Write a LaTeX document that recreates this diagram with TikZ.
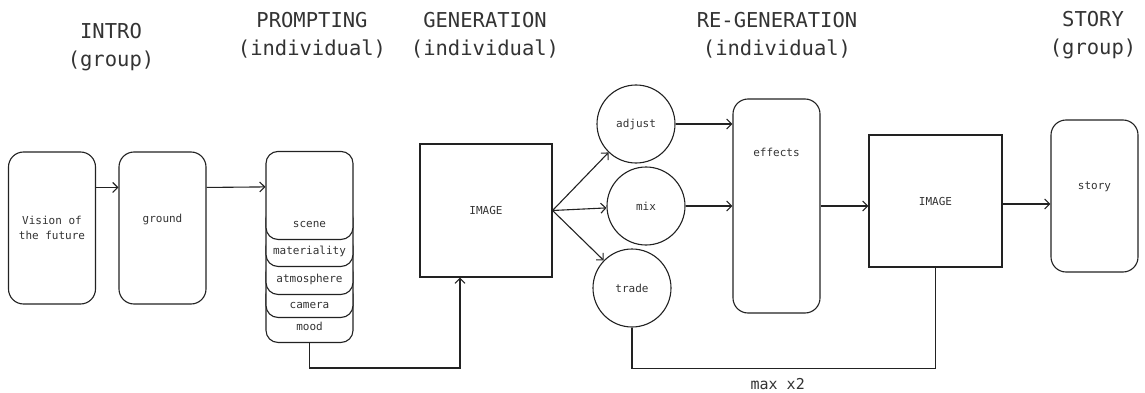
\documentclass[tikz,border=0pt]{standalone}
\usepackage{fontspec}
\setmonofont{DejaVu Sans Mono}
\usetikzlibrary{arrows.meta,positioning,calc}
\definecolor{ink}{HTML}{222222}
\definecolor{txt}{HTML}{333333}
\tikzset{phase/.style={font=\ttfamily\fontsize{20.5}{28}\selectfont,align=center,text=txt},block/.style={draw=ink,line width=1.1pt,fill=white,rounded corners=15pt,minimum width=87pt,inner sep=0pt,align=center,text=txt,font=\ttfamily\fontsize{11}{15}\selectfont},layer/.style={block,rounded corners=12pt,anchor=south,inner ysep=9pt,text depth=3pt,text height=#1},frame/.style={draw=ink,line width=1.1pt,inner sep=0pt,text=txt,font=\ttfamily\fontsize{11}{15}\selectfont},choice/.style={frame,circle,minimum size=78pt},arr/.style={-{Straight Barb[length=5pt,width=10pt]},line width=1.1pt,draw=ink},wire/.style={line width=1.1pt,draw=ink},lab/.style={font=\ttfamily\fontsize{15}{18}\selectfont,text=txt}}
\begin{document}
\begin{tikzpicture}[x=1pt,y=-1pt]
\useasboundingbox (0,0) rectangle (1145,393);
% stage titles
\node[phase] (t1) at (111,47) {INTRO\\(group)};
\node[phase] (t2) at (312,35) {PROMPTING\\(individual)};
\node[phase] (t3) at (485,35) {GENERATION\\(individual)};
\node[phase] (t4) at (777,35) {RE-GENERATION\\(individual)};
\node[phase] (t5) at (1093,35) {STORY\\(group)};
% intro
\node[block,minimum height=152pt] (vision) at (52,228) {Vision of\\the future};
\node[block,minimum height=152pt,text height=8pt,text depth=20pt] (ground) at (162.5,228) {ground};
% prompt stack, drawn bottom up
\node[layer=39pt] (mood) at (309.5,343) {mood};
\node[layer=39pt,text depth=0pt] (camera) at (309.5,318) {camera};
\node[layer=39pt] (atmo) at (309.5,295) {atmosphere};
\node[layer=39pt] (mat) at (309.5,267) {materiality};
\node[layer=67pt] (scene) at (309.5,240) {scene};
% generation
\node[frame,minimum width=132pt,minimum height=133pt] (img) at (486,210.5) {IMAGE};
\node[choice] (adjust) at (636,124) {adjust};
\node[choice] (mix) at (646,206) {mix};
\node[choice] (trade) at (632,288) {trade};
\node[block,minimum height=214pt,text height=8pt,text depth=106pt] (effects) at (776.5,206) {effects};
\node[frame,minimum width=133pt,minimum height=132pt] (img2) at (935.5,201) {IMAGE};
\node[block,minimum height=152pt,text height=8pt,text depth=22pt] (story) at (1094.5,196) {story};
% connectors
\draw[arr] ([yshift=-36pt]vision.north east) -- ([yshift=-36pt]ground.north west);
\draw[arr] ([yshift=-36pt]ground.north east) -- ([yshift=-36pt]scene.north west);
\draw[arr] (mood.south) -- ++(0,25) -| ([xshift=-26pt]img.south);
\draw[arr] (img.east) -- (adjust);
\draw[arr] (img.east) -- (mix);
\draw[arr] (img.east) -- (trade);
\draw[arr] (adjust.east) -- (adjust.east -| effects.west);
\draw[arr] (mix.east) -- (mix.east -| effects.west);
\draw[arr] (effects.east) -- (effects.east -| img2.west);
\draw[arr] ([yshift=-3pt]img2.east) -- ([yshift=-3pt]img2.east -| story.west);
\draw[wire] (trade.south) -- ++(0,41) -| node[lab,pos=0.24,below=6pt] (loop) {max x2} (img2.south);
\end{tikzpicture}
\end{document}
